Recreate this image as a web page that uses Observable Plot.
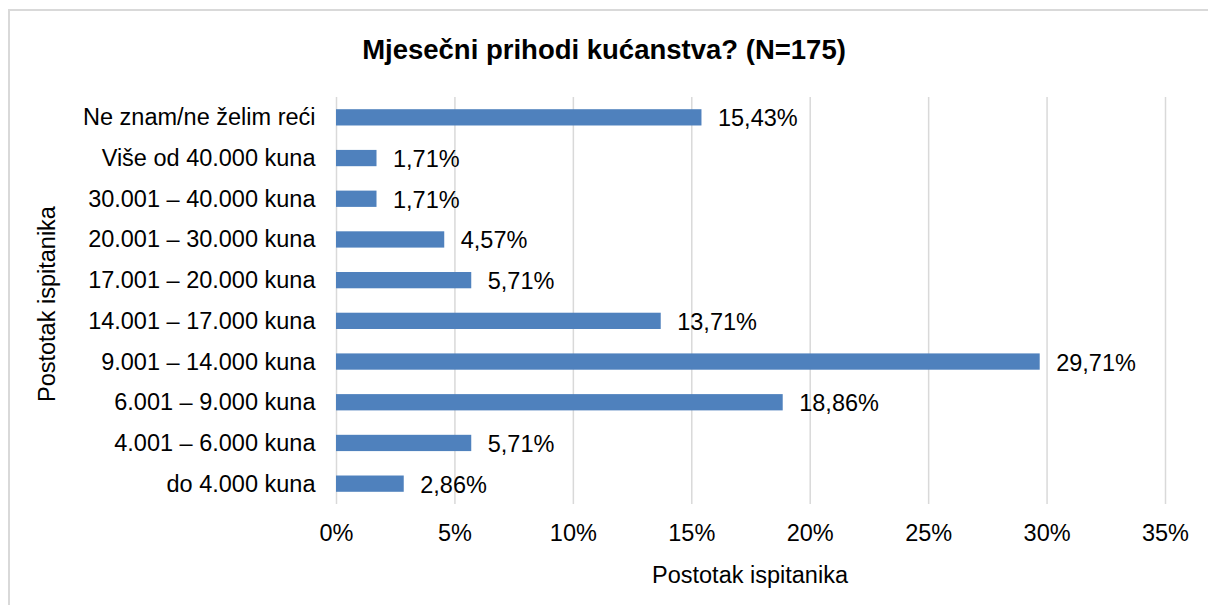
<!DOCTYPE html>
<html>
<head>
<meta charset="utf-8">
<script src="https://cdn.jsdelivr.net/npm/d3@7"></script>
<script src="https://cdn.jsdelivr.net/npm/@observablehq/plot@0.6"></script>
<style>
  html, body { margin: 0; padding: 0; background: #fff; }
  #wrap { position: relative; width: 1208px; height: 605px; overflow: hidden; font-family: "Liberation Sans", Arial, sans-serif; color: #000; }
  #frame { position: absolute; left: 8px; top: 9px; width: 1300px; height: 700px; border: 2px solid #d9d9d9; box-sizing: border-box; }
  #chart { position: absolute; left: 0; top: 0; }
  .t { position: absolute; white-space: nowrap; line-height: 1; }
  #title { left: 0; width: 1208px; text-align: center; top: 36px; font-size: 27.5px; font-weight: bold; }
  #xtitle { left: 0; width: 1500px; text-align: center; font-size: 23.5px; }
  #ytitle { font-size: 23.5px; transform-origin: 0 0; }
</style>
</head>
<body>
<div id="wrap">
  <div id="frame"></div>
  <div id="chart"></div>
  <div id="title" class="t">Mjesečni prihodi kućanstva? (N=175)</div>
  <div id="xtitle" class="t">Postotak ispitanika</div>
  <div id="ytitle" class="t">Postotak ispitanika</div>
</div>
<script>
const categories = [
  "Ne znam/ne želim reći",
  "Više od 40.000 kuna",
  "30.001 – 40.000 kuna",
  "20.001 – 30.000 kuna",
  "17.001 – 20.000 kuna",
  "14.001 – 17.000 kuna",
  "9.001 – 14.000 kuna",
  "6.001 – 9.000 kuna",
  "4.001 – 6.000 kuna",
  "do 4.000 kuna"
];
const values = [15.43, 1.71, 1.71, 4.57, 5.71, 13.71, 29.71, 18.86, 5.71, 2.86];
const xTicks = [0, 5, 10, 15, 20, 25, 30, 35];

const data = categories.map((c, i) => ({ category: c, value: values[i] }));
const fmt = v => v.toFixed(2).replace(".", ",") + "%";

const W = 1208, H = 605;
const mL = 336, mR = 43, mT = 97, mB = 101;

const chart = Plot.plot({
  width: W,
  height: H,
  marginLeft: mL,
  marginRight: mR,
  marginTop: mT,
  marginBottom: mB,
  style: { fontFamily: "'Liberation Sans', Arial, sans-serif", fontSize: "23.5px", color: "#000", background: "transparent" },
  x: { domain: [0, 35] },
  y: { domain: categories, paddingInner: 0.6, paddingOuter: 0.3, round: false },
  marks: [
    Plot.gridX(xTicks, { stroke: "#d9d9d9", strokeOpacity: 1, strokeWidth: 1.5 }),
    Plot.barX(data, { x: "value", y: "category", fill: "#4f81bd" }),
    Plot.text(data, { x: "value", y: "category", text: d => fmt(d.value), textAnchor: "start", dx: 16, dy: 1, fill: "#000", fontSize: 23.5 }),
    Plot.axisY({ tickSize: 0, tickPadding: 21, label: null, fontSize: 23.5, fill: "#000" }),
    Plot.axisX({ ticks: xTicks, tickFormat: d => d + "%", tickSize: 0, tickPadding: 20, label: null, fontSize: 23.5, fill: "#000" })
  ]
});
document.getElementById("chart").appendChild(chart);

// axis titles
const xt = document.getElementById("xtitle");
xt.style.left = "0px";
xt.style.top = "564px";
const yt = document.getElementById("ytitle");
const yw = yt.getBoundingClientRect().width;
yt.style.left = "36px";
yt.style.top = (304 + yw / 2) + "px";
yt.style.transform = "rotate(-90deg)";
</script>
</body>
</html>
